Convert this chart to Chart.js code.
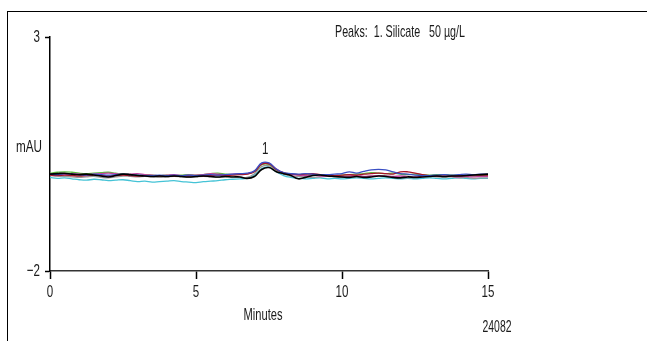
<!DOCTYPE html>
<html>
<head>
<meta charset="utf-8">
<script src="https://cdn.jsdelivr.net/npm/chart.js@4"></script>
<style>
  html, body { margin: 0; padding: 0; background: #fff; }
  #wrap { width: 647px; height: 341px; }
</style>
</head>
<body>
<div id="wrap"><canvas id="chromChart" width="647" height="341"></canvas></div>
<script>
const FONT = "'Liberation Sans', Arial, sans-serif";

// retention time grid (minutes)
const minutes = [
  0, 0.25, 0.5, 0.75, 1, 1.25, 1.5, 1.75, 2, 2.25,
  2.5, 2.75, 3, 3.25, 3.5, 3.75, 4, 4.25, 4.5, 4.75,
  5, 5.25, 5.5, 5.75, 6, 6.25, 6.5, 6.75, 7, 7.25,
  7.5, 7.75, 8, 8.25, 8.5, 8.75, 9, 9.25, 9.5, 9.75,
  10, 10.25, 10.5, 10.75, 11, 11.25, 11.5, 11.75, 12, 12.25,
  12.5, 12.75, 13, 13.25, 13.5, 13.75, 14, 14.25, 14.5, 14.75,
  15
];

// overlaid injections (mAU)
const traceBlack = [
  0.07, 0.08, 0.09, 0.07, 0.06, 0.07, 0.05, 0.03, 0.01, 0.04,
  0.07, 0.06, 0.04, 0.03, 0.02, 0.03, 0.02, 0.03, 0.02, 0.01,
  0.02, 0.03, 0.02, 0.01, 0.02, 0.01, 0.01, -0.02, 0.02, 0.17,
  0.21, 0.12, 0.08, 0.04, -0.03, 0.00, 0.04, 0.05, 0.03, 0.02,
  0.01, 0.00, 0.02, 0.00, 0.01, 0.03, 0.02, 0.00, -0.01, 0.01,
  0.00, 0.01, 0.02, 0.03, 0.02, 0.03, 0.03, 0.04, 0.05, 0.06,
  0.07
];
const traceBlue = [
  0.07, 0.06, 0.08, 0.07, 0.06, 0.05, 0.07, 0.06, 0.05, 0.06,
  0.07, 0.06, 0.05, 0.04, 0.04, 0.05, 0.04, 0.05, 0.04, 0.05,
  0.04, 0.05, 0.06, 0.05, 0.06, 0.07, 0.08, 0.09, 0.14, 0.31,
  0.31, 0.18, 0.10, 0.08, 0.07, 0.08, 0.07, 0.06, 0.06, 0.07,
  0.08, 0.12, 0.09, 0.13, 0.16, 0.17, 0.16, 0.12, 0.08, 0.07,
  0.05, 0.04, 0.04, 0.05, 0.06, 0.05, 0.06, 0.07, 0.06, 0.07,
  0.07
];
const traceRed = [
  0.05, 0.04, 0.05, 0.04, 0.03, 0.04, 0.05, 0.04, 0.03, 0.04,
  0.05, 0.04, 0.03, 0.04, 0.03, 0.03, 0.04, 0.03, 0.04, 0.03,
  0.04, 0.03, 0.04, 0.05, 0.04, 0.05, 0.06, 0.07, 0.12, 0.28,
  0.29, 0.17, 0.10, 0.07, 0.06, 0.07, 0.08, 0.06, 0.05, 0.04,
  0.05, 0.06, 0.05, 0.07, 0.08, 0.09, 0.08, 0.07, 0.12, 0.12,
  0.09, 0.06, 0.04, 0.03, 0.02, 0.03, 0.04, 0.04, 0.05, 0.05,
  0.05
];
const traceGreen = [
  0.09, 0.11, 0.12, 0.11, 0.09, 0.08, 0.09, 0.10, 0.11, 0.09,
  0.07, 0.06, 0.05, 0.06, 0.05, 0.04, 0.05, 0.04, 0.05, 0.06,
  0.05, 0.06, 0.08, 0.09, 0.07, 0.06, 0.07, 0.08, 0.12, 0.27,
  0.28, 0.17, 0.09, 0.07, 0.06, 0.05, 0.06, 0.05, 0.05, 0.04,
  0.05, 0.06, 0.07, 0.08, 0.10, 0.09, 0.08, 0.09, 0.07, 0.06,
  0.07, 0.06, 0.05, 0.06, 0.06, 0.05, 0.05, 0.04, 0.03, 0.04,
  0.03
];
const traceMagenta = [
  0.06, 0.07, 0.06, 0.08, 0.07, 0.06, 0.07, 0.08, 0.09, 0.08,
  0.06, 0.07, 0.08, 0.06, 0.05, 0.04, 0.05, 0.06, 0.04, 0.05,
  0.05, 0.06, 0.08, 0.07, 0.06, 0.07, 0.08, 0.08, 0.13, 0.29,
  0.30, 0.18, 0.09, 0.06, 0.05, 0.04, 0.05, 0.03, 0.02, 0.03,
  0.02, 0.03, 0.04, 0.02, 0.03, 0.04, 0.03, 0.02, 0.03, 0.02,
  0.01, 0.02, 0.03, 0.02, 0.03, 0.02, 0.01, 0.02, 0.01, 0.02,
  0.02
];
const traceGray = [
  0.04, 0.03, 0.02, 0.01, 0.00, 0.01, 0.02, 0.00, -0.01, 0.01,
  0.03, 0.02, 0.01, 0.02, 0.01, 0.00, 0.01, 0.02, 0.01, 0.00,
  0.01, 0.02, 0.01, 0.00, 0.01, 0.02, 0.01, 0.00, 0.08, 0.23,
  0.25, 0.15, 0.07, 0.03, 0.02, 0.01, 0.00, 0.01, 0.02, 0.01,
  0.00, 0.01, 0.02, 0.01, 0.03, 0.04, 0.03, 0.01, 0.00, -0.01,
  0.00, 0.01, 0.02, 0.01, 0.00, 0.01, -0.01, 0.00, -0.02, -0.01,
  -0.01
];
const traceCyan = [
  0.00, -0.02, -0.01, -0.03, -0.05, -0.06, -0.04, -0.05, -0.07, -0.06,
  -0.05, -0.07, -0.09, -0.08, -0.10, -0.09, -0.08, -0.07, -0.09, -0.10,
  -0.11, -0.09, -0.08, -0.07, -0.05, -0.04, -0.03, -0.02, 0.05, 0.19,
  0.22, 0.12, 0.04, 0.00, -0.02, -0.03, -0.02, -0.01, -0.03, -0.02,
  -0.03, -0.02, -0.01, -0.02, -0.03, -0.02, -0.01, -0.02, -0.03, -0.02,
  -0.03, -0.02, -0.01, -0.02, -0.03, -0.02, -0.01, -0.02, -0.03, -0.02,
  -0.02
];

const yTicks = [-2, 3];
const xTickStep = 5;
const peakTime = 7.37;
const peakTop = 0.31;
const peakLabel = "1";

const toPoints = (vals) => vals.map((v, i) => ({ x: minutes[i], y: v }));

const mkSet = (vals, color, width) => ({
  data: toPoints(vals),
  borderColor: color,
  borderWidth: width,
  pointRadius: 0,
  tension: 0.4,
  fill: false,
});

// the reference uses a condensed face: draw with a horizontal squeeze
const SQUEEZE = 0.68;
const squeezeText = (ctx, text, x, y, align, k) => {
  ctx.save();
  ctx.translate(x, y);
  ctx.scale(k, 1);
  ctx.textAlign = align;
  ctx.fillText(text, 0, 0);
  ctx.restore();
};
const fitText = (ctx, text, x, y, w, align) => {
  squeezeText(ctx, text, x, y, align, w / ctx.measureText(text).width);
};

// frame + free text + tick labels that go with the figure
const annotations = {
  id: "annotations",
  beforeDraw(chart) {
    const ctx = chart.ctx;
    ctx.save();
    ctx.fillStyle = "#fff";
    ctx.fillRect(0, 0, chart.width, chart.height);
    ctx.strokeStyle = "#000";
    ctx.lineWidth = 1;
    ctx.strokeRect(7.5, 11.5, 700, 400);
    ctx.restore();
  },
  afterDraw(chart) {
    const ctx = chart.ctx;
    const xs = chart.scales.x;
    const ys = chart.scales.y;
    ctx.save();
    ctx.fillStyle = "#1a1a1a";
    ctx.font = "17px " + FONT;
    ctx.textBaseline = "middle";

    // tick labels from the scales
    xs.ticks.forEach((t) => {
      squeezeText(ctx, String(t.value), xs.getPixelForValue(t.value), 292, "center", SQUEEZE);
    });
    ys.ticks.forEach((t) => {
      const lbl = String(t.value).replace("-", "\u2212");
      squeezeText(ctx, lbl, 40, ys.getPixelForValue(t.value), "right", SQUEEZE);
    });

    fitText(ctx, "mAU", 16, 147, 26, "left");
    fitText(ctx, "Peaks:  1. Silicate   50 µg/L", 335, 32, 130, "left");
    fitText(ctx, "Minutes", 263, 315, 39, "center");
    fitText(ctx, "24082", 497, 327, 29, "center");
    squeezeText(ctx, peakLabel, xs.getPixelForValue(peakTime), ys.getPixelForValue(peakTop) - 14, "center", SQUEEZE);
    ctx.restore();
  },
};

const canvasElement = document.getElementById("chromChart");

let config = {
  type: "line",
  data: {
    datasets: [
      mkSet(traceBlack, "#000000", 1.6),
      mkSet(traceBlue, "#3a4fc4", 1.3),
      mkSet(traceRed, "#a8142a", 1.3),
      mkSet(traceMagenta, "#c2449e", 1.3),
      mkSet(traceGreen, "#5dbb3f", 1.3),
      mkSet(traceGray, "#9a9a9a", 1.3),
      mkSet(traceCyan, "#45c3d6", 1.3),
    ],
  },
  options: {
    responsive: false,
    animation: false,
    layout: { padding: { left: 0, top: 37, right: 159, bottom: 0 } },
    plugins: { legend: { display: false }, tooltip: { enabled: false } },
    scales: {
      x: {
        type: "linear",
        min: 0,
        max: 15,
        border: { color: "#333", width: 1.5 },
        grid: { drawOnChartArea: false, tickLength: 8, color: "#000", tickWidth: 1.5 },
        ticks: { stepSize: xTickStep, display: false },
        afterFit: (s) => { s.height = 70; },
      },
      y: {
        min: -2,
        max: 3,
        border: { color: "#000", width: 1.5 },
        grid: { drawOnChartArea: false, tickLength: 5, color: "#000", tickWidth: 1.5 },
        afterBuildTicks: (s) => { s.ticks = yTicks.map((v) => ({ value: v })); },
        ticks: { display: false },
        afterFit: (s) => { s.width = 50; },
      },
    },
  },
  plugins: [annotations],
};

const chromChart = new Chart(canvasElement, config);
</script>
</body>
</html>
